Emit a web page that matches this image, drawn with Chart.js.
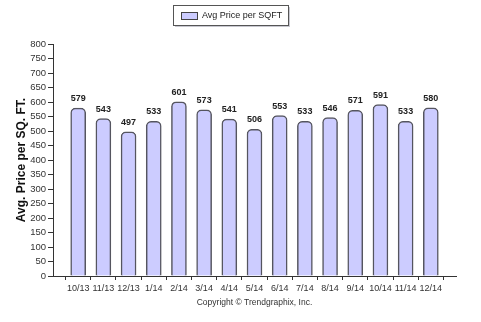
<!DOCTYPE html>
<html>
<head>
<meta charset="utf-8">
<script src="https://cdn.jsdelivr.net/npm/chart.js@4"></script>
<style>
  html, body { margin: 0; padding: 0; background: #fff; }
  #wrap { width: 481px; height: 322px; }
</style>
</head>
<body>
<div id="wrap"><canvas id="myChart" width="481" height="322"></canvas></div>
<script>
// months shown on the x axis (blank slots at each end keep the spacing of the original)
const months = ["10/13", "11/13", "12/13", "1/14", "2/14", "3/14", "4/14", "5/14",
  "6/14", "7/14", "8/14", "9/14", "10/14", "11/14", "12/14"];
const avgPrice = [579, 543, 497, 533, 601, 573, 541, 506, 553, 533, 546, 571, 591, 533, 580];
const seriesName = "Avg Price per SQFT";
const yTitle = "Avg. Price per SQ. FT.";
const copyright = "Copyright \u00A9 Trendgraphix, Inc.";

const labels = [""].concat(months, [""]);
const values = [null].concat(avgPrice, [null]);

const barFill = "#ccccff";
const barEdge = "#55555f";
const fontFam = "'Liberation Sans', Arial, sans-serif";

// numbers above each bar
const valueLabels = {
  id: "valueLabels",
  afterDatasetsDraw(chart) {
    const ctx = chart.ctx;
    const meta = chart.getDatasetMeta(0);
    ctx.save();
    ctx.font = "bold 9px " + fontFam;
    ctx.fillStyle = "#222";
    ctx.textAlign = "center";
    ctx.textBaseline = "bottom";
    meta.data.forEach((bar, i) => {
      if (values[i] == null) return;
      ctx.fillText(values[i], bar.x, bar.y - 5);
    });
    ctx.restore();
  }
};

// boxed legend at the top + copyright line at the bottom
const extras = {
  id: "extras",
  afterDraw(chart) {
    const ctx = chart.ctx;
    const area = chart.chartArea;
    ctx.save();
    const bx = 173, by = 5, bw = 115, bh = 20;
    ctx.fillStyle = "#c8c8d0";
    ctx.fillRect(bx + 2, by + 2, bw, bh);
    ctx.fillStyle = "#fff";
    ctx.fillRect(bx, by, bw, bh);
    ctx.strokeStyle = "#555";
    ctx.lineWidth = 1;
    ctx.strokeRect(bx + 0.5, by + 0.5, bw, bh);
    ctx.fillStyle = barFill;
    ctx.fillRect(bx + 8, by + 7, 16, 7);
    ctx.strokeStyle = "#444";
    ctx.strokeRect(bx + 8.5, by + 7.5, 16, 7);
    ctx.fillStyle = "#222";
    ctx.font = "9px " + fontFam;
    ctx.textAlign = "left";
    ctx.textBaseline = "middle";
    ctx.fillText(seriesName, bx + 29, by + 11);
    ctx.textAlign = "center";
    ctx.fillStyle = "#333";
    ctx.font = "8.5px " + fontFam;
    ctx.fillText(copyright, (area.left + area.right) / 2, 303);
    ctx.restore();
  }
};

const ctx = document.getElementById("myChart").getContext("2d");
const chart = new Chart(ctx, {
  type: "bar",
  data: {
    labels: labels,
    datasets: [{
      label: seriesName,
      data: values,
      backgroundColor: barFill,
      borderColor: barEdge,
      borderWidth: { top: 1.5, left: 1.5, right: 1.5, bottom: 0 },
      borderRadius: { topLeft: 5, topRight: 5 },
      borderSkipped: "bottom",
      barThickness: 15
    }]
  },
  options: {
    responsive: false,
    animation: false,
    layout: { padding: { top: 44, right: 25, bottom: 0, left: 0 } },
    plugins: {
      legend: { display: false },
      tooltip: { enabled: false }
    },
    scales: {
      x: {
        offset: false,
        grid: { drawOnChartArea: false, tickLength: 4, color: "#333", tickColor: "#333" },
        border: { color: "#333", width: 1 },
        ticks: {
          color: "#333",
          font: { family: fontFam, size: 9 },
          maxRotation: 0,
          autoSkip: false,
          padding: 3
        },
        afterFit(scale) { scale.height = 46; }
      },
      y: {
        min: 0,
        max: 800,
        grid: { drawOnChartArea: false, tickLength: 5, color: "#333", tickColor: "#333" },
        border: { color: "#333", width: 1 },
        ticks: {
          stepSize: 50,
          autoSkip: false,
          color: "#333",
          font: { family: fontFam, size: 9.5 },
          padding: 2
        },
        title: {
          display: true,
          text: yTitle,
          color: "#111",
          font: { family: fontFam, size: 12, weight: "bold" },
          padding: { top: 14, bottom: 0 }
        },
        afterFit(scale) { scale.width = 53; }
      }
    }
  },
  plugins: [valueLabels, extras]
});
</script>
</body>
</html>
